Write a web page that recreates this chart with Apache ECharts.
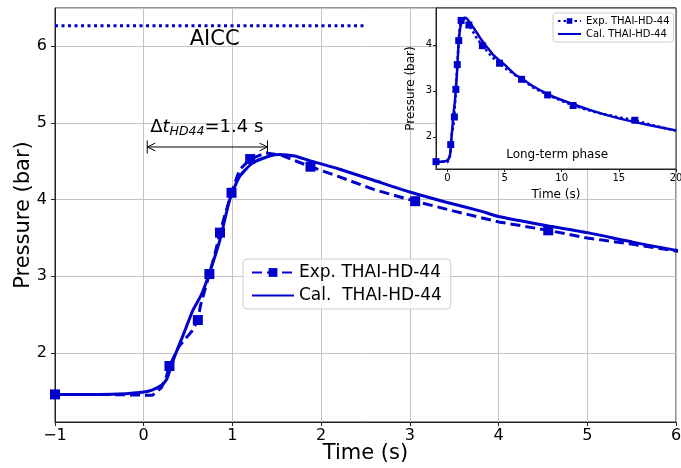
<!DOCTYPE html>
<html>
<head>
<meta charset="utf-8">
<script src="https://cdn.jsdelivr.net/npm/echarts@6/dist/echarts.min.js"></script>
<style>
  html, body { margin: 0; padding: 0; background: #fff; }
  #main { width: 681px; height: 468px; }
</style>
</head>
<body>
<div id="main"></div>
<script>
// experimental data (THAI-HD-44)
var expTime = [-1, -0.5, 0, 0.1, 0.2, 0.25, 0.29, 0.4, 0.54, 0.61, 0.64, 0.74, 0.8, 0.86, 0.91, 0.99, 1.08, 1.2, 1.38, 1.55, 1.88, 2.2, 2.6, 3.06, 3.5, 4.0, 4.56, 5.0, 5.5, 6.0, 6.49, 7.5, 8.77, 10, 11.0, 13, 14.5, 16.4, 18, 20];
var expPres = [1.46, 1.46, 1.45, 1.45, 1.55, 1.67, 1.83, 2.09, 2.28, 2.43, 2.62, 3.03, 3.28, 3.57, 3.78, 4.09, 4.39, 4.53, 4.61, 4.58, 4.43, 4.30, 4.13, 3.98, 3.85, 3.71, 3.60, 3.50, 3.42, 3.33, 3.25, 3.07, 2.91, 2.78, 2.68, 2.53, 2.45, 2.36, 2.25, 2.13];
var expMarkers = [-1, 0.29, 0.61, 0.74, 0.86, 0.99, 1.2, 1.88, 3.06, 4.56, 6.49, 8.77, 11.0, 16.4];

// calculation
var calTime = [-1, -0.5, -0.2, 0, 0.1, 0.2, 0.26, 0.35, 0.44, 0.5, 0.555, 0.65, 0.74, 0.86, 0.97, 1.08, 1.23, 1.42, 1.53, 1.7, 1.87, 2.2, 2.6, 3.0, 3.4, 3.8, 4.0, 4.5, 5.0, 5.5, 6.0, 6.5, 7.5, 8.77, 10, 12.5, 15, 17.5, 20];
var calPres = [1.46, 1.46, 1.47, 1.49, 1.52, 1.58, 1.66, 1.96, 2.22, 2.40, 2.56, 2.76, 3.04, 3.48, 4.0, 4.30, 4.48, 4.57, 4.59, 4.57, 4.51, 4.40, 4.25, 4.10, 3.97, 3.85, 3.78, 3.67, 3.57, 3.45, 3.34, 3.27, 3.10, 2.93, 2.80, 2.58, 2.40, 2.26, 2.14];

var aiccLevel = 6.27;
var aiccSpan = [-1, 2.5];
var delayStart = 0.04, delayEnd = 1.395, delayY = 4.687;

var insetXTicks = [0, 5, 10, 15, 20];
var insetYTicks = [2, 3, 4];

var FONT = 'DejaVu Sans';
var BLUE = '#0000cd';

function expData(size) {
    return expTime.map(function(t, i) {
        return { value: [t, expPres[i]], symbolSize: expMarkers.indexOf(t) >= 0 ? size : 0 };
    });
}
function calData() {
    return calTime.map(function(t, i) { return [t, calPres[i]]; });
}

// double arrow with end bars, built in data units
var ax = 0.09, ay = 0.05, by = 0.085;
var arrowPath = [
    [delayStart, delayY], [delayEnd, delayY], null,
    [delayStart, delayY + by], [delayStart, delayY - by], null,
    [delayEnd, delayY + by], [delayEnd, delayY - by], null,
    [delayStart + ax, delayY + ay], [delayStart, delayY], [delayStart + ax, delayY - ay], null,
    [delayEnd - ax, delayY + ay], [delayEnd, delayY], [delayEnd - ax, delayY - ay]
].map(function(p) { return p ? p : ['-', '-']; });

var myChart = echarts.init(document.getElementById('main'));

var noMarker = { opacity: 0, color: 'rgba(0,0,0,0)', borderWidth: 0 };

var option = {
    animation: false,
    textStyle: { fontFamily: FONT },
    grid: [
        { left: 55, top: 8, right: 5, bottom: 46, show: true, borderColor: '#222', borderWidth: 1,
          backgroundColor: 'transparent', outerBoundsMode: 'none', containLabel: false },
        { left: 436, top: 8, width: 240, height: 161, show: true, borderColor: '#222', borderWidth: 1,
          backgroundColor: '#fff', z: 5, outerBoundsMode: 'none', containLabel: false }
    ],
    xAxis: [
        {
            gridIndex: 0, type: 'value', min: -1, max: 6, interval: 1,
            name: 'Time (s)', nameLocation: 'middle', nameGap: 21, nameMoveOverlap: false,
            nameTextStyle: { fontSize: 21, color: '#000', fontFamily: FONT },
            axisLine: { show: true, onZero: false, lineStyle: { color: '#222' } },
            axisTick: { show: true, length: 4, lineStyle: { color: '#222' } },
            axisLabel: { fontSize: 16, color: '#000', margin: 6, fontFamily: FONT,
                formatter: function(v) { return v < 0 ? '\u2212' + Math.abs(v) : String(v); } },
            splitLine: { show: true, lineStyle: { color: '#c4c4c4', width: 1 } }
        },
        {
            gridIndex: 1, type: 'value', min: -1, max: 20,
            name: 'Time (s)', nameLocation: 'middle', nameGap: 20, nameMoveOverlap: false,
            nameTextStyle: { fontSize: 12, color: '#000', fontFamily: FONT },
            axisLine: { show: true, onZero: false, lineStyle: { color: '#222' } },
            axisTick: { show: true, length: 3, customValues: insetXTicks, lineStyle: { color: '#222' } },
            axisLabel: { fontSize: 10, color: '#000', margin: 4, customValues: insetXTicks, fontFamily: FONT },
            splitLine: { show: false },
            z: 6
        }
    ],
    yAxis: [
        {
            gridIndex: 0, type: 'value', min: 1.1, max: 6.5,
            name: 'Pressure (bar)', nameLocation: 'middle', nameGap: 21, nameMoveOverlap: false,
            nameTextStyle: { fontSize: 21, color: '#000', fontFamily: FONT },
            axisLine: { show: true, onZero: false, lineStyle: { color: '#222' } },
            axisTick: { show: true, length: 4, lineStyle: { color: '#222' } },
            axisLabel: { fontSize: 16, color: '#000', margin: 8, showMinLabel: false, showMaxLabel: false, fontFamily: FONT },
            splitLine: { show: true, lineStyle: { color: '#c4c4c4', width: 1 } }
        },
        {
            gridIndex: 1, type: 'value', min: 1.3, max: 4.8,
            name: 'Pressure (bar)', nameLocation: 'middle', nameGap: 19, nameMoveOverlap: false,
            nameTextStyle: { fontSize: 12, color: '#000', fontFamily: FONT },
            axisLine: { show: true, onZero: false, lineStyle: { color: '#222' } },
            axisTick: { show: true, length: 3, customValues: insetYTicks, lineStyle: { color: '#222' } },
            axisLabel: { fontSize: 10, color: '#000', margin: 4, customValues: insetYTicks, fontFamily: FONT },
            splitLine: { show: false },
            z: 6
        }
    ],
    legend: [
        {
            data: ['Exp. THAI-HD-44', { name: 'Cal.  THAI-HD-44', itemStyle: noMarker }],
            orient: 'vertical', left: 243, top: 259,
            itemWidth: 42, itemHeight: 11, itemGap: 6,
            padding: [5, 9, 5, 8],
            borderColor: '#ccc', borderWidth: 1, borderRadius: 4,
            backgroundColor: 'rgba(255,255,255,0.8)',
            textStyle: { fontSize: 17, color: '#000', fontFamily: FONT }
        },
        {
            data: ['Exp. THAI-HD-44_in', { name: 'Cal. THAI-HD-44', itemStyle: noMarker }],
            orient: 'vertical', left: 553, top: 13,
            itemWidth: 23, itemHeight: 7, itemGap: 3,
            padding: [3, 4, 3, 4],
            borderColor: '#ccc', borderWidth: 1, borderRadius: 3,
            backgroundColor: '#fff',
            formatter: function(name) { return name.replace('_in', ''); },
            textStyle: { fontSize: 10, color: '#000', fontFamily: FONT },
            z: 8
        }
    ],
    series: [
        {
            name: 'AICC', type: 'line', xAxisIndex: 0, yAxisIndex: 0,
            data: [[aiccSpan[0], aiccLevel], [aiccSpan[1], aiccLevel]],
            symbol: 'none', lineStyle: { color: BLUE, width: 3, type: [3, 3.5] }
        },
        {
            name: 'Exp. THAI-HD-44', type: 'line', xAxisIndex: 0, yAxisIndex: 0,
            data: expData(10),
            symbol: 'rect', symbolSize: 10, showAllSymbol: true,
            itemStyle: { color: BLUE },
            lineStyle: { color: BLUE, width: 3, type: [10, 5] }
        },
        {
            name: 'Cal.  THAI-HD-44', type: 'line', xAxisIndex: 0, yAxisIndex: 0,
            data: calData(),
            symbol: 'none', smooth: 0.2,
            itemStyle: { color: BLUE },
            lineStyle: { color: BLUE, width: 3 }
        },
        {
            name: 'delay', type: 'line', xAxisIndex: 0, yAxisIndex: 0,
            data: arrowPath, symbol: 'none', connectNulls: false,
            lineStyle: { color: '#000', width: 1 }
        },
        {
            name: 'labels', type: 'scatter', xAxisIndex: 0, yAxisIndex: 0,
            symbolSize: 0, itemStyle: { opacity: 1 },
            data: [
                { value: [0.8, 6.09], label: { show: true, position: 'inside', formatter: 'AICC', fontSize: 21, color: '#000', opacity: 1, fontFamily: FONT } },
                { value: [0.71, 4.94], label: {
                    show: true, position: 'inside', opacity: 1,
                    formatter: '{a|\u0394}{i|t}{s|HD44}{a|=1.4 s}',
                    rich: {
                        a: { fontSize: 18, color: '#000', fontFamily: FONT },
                        i: { fontSize: 18, color: '#000', fontStyle: 'italic', fontFamily: FONT },
                        s: { fontSize: 12.5, color: '#000', fontStyle: 'italic', fontFamily: FONT, padding: [9, 0, 0, 0] }
                    }
                } }
            ]
        },
        {
            name: 'Exp. THAI-HD-44_in', type: 'line', xAxisIndex: 1, yAxisIndex: 1,
            data: expData(7),
            symbol: 'rect', symbolSize: 7, showAllSymbol: true,
            itemStyle: { color: BLUE },
            lineStyle: { color: BLUE, width: 2.5, type: [2.5, 3] },
            z: 7
        },
        {
            name: 'Cal. THAI-HD-44', type: 'line', xAxisIndex: 1, yAxisIndex: 1,
            data: calData(),
            symbol: 'none', smooth: 0.2,
            itemStyle: { color: BLUE },
            lineStyle: { color: BLUE, width: 2.5 },
            z: 7
        },
        {
            name: 'insetLabel', type: 'scatter', xAxisIndex: 1, yAxisIndex: 1,
            symbolSize: 0, z: 7, itemStyle: { opacity: 1 },
            data: [
                { value: [9.6, 1.6], label: { show: true, position: 'inside', formatter: 'Long-term phase', fontSize: 12, color: '#000', opacity: 1, fontFamily: FONT } }
            ]
        }
    ]
};

myChart.setOption(option);
</script>
</body>
</html>
